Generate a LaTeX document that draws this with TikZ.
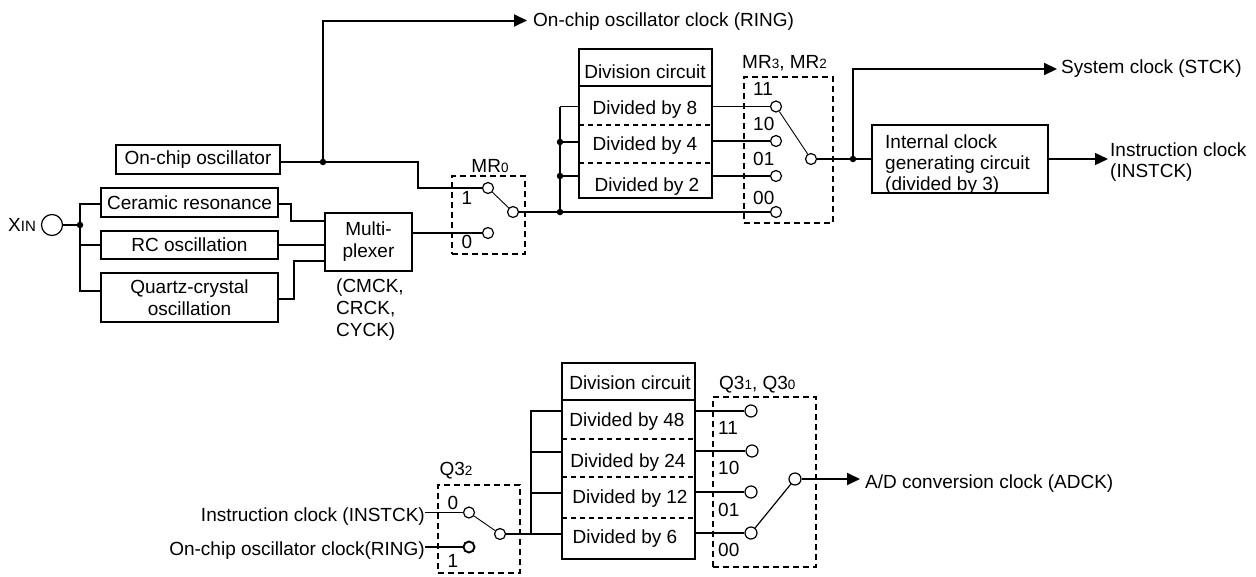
\documentclass[tikz,border=0pt]{standalone}
\usepackage{fontspec}
\setmainfont{Liberation Sans}
\usetikzlibrary{arrows.meta}
\newcommand{\sm}[1]{{\fontsize{13.5}{14}\selectfont #1}}
\tikzset{
  wire/.style={line width=1.3pt},
  thin wire/.style={line width=0.9pt},
  bold wire/.style={line width=2pt},
  arrowed/.style={-{Triangle[length=13pt,width=12pt]}},
  box/.style={draw,line width=1.6pt,inner sep=0pt,align=center,font=\fontsize{19}{22}\selectfont},
  heavybox/.style={draw,line width=2pt,inner sep=0pt},
  lbl/.style={inner sep=0pt,text height=13.6pt,text depth=0pt,font=\fontsize{19}{21}\selectfont},
  dashbox/.style={draw,line width=1.7pt,dash pattern=on 6pt off 4pt,inner sep=0pt},
  sepline/.style={line width=1.1pt,dash pattern=on 5pt off 4pt},
  sw/.style={circle,draw,line width=1.2pt,inner sep=0pt,minimum size=11pt},
  dot/.style={circle,fill,inner sep=0pt,minimum size=6.5pt},
}
\begin{document}
\begin{tikzpicture}[x=1pt,y=-1pt]
\useasboundingbox (0,0) rectangle (1256,576);
% ---------- upper diagram ----------
\node[lbl,anchor=west] (xin) at (8,225) {X{\fontsize{15}{15}\selectfont IN}};
\node[circle,draw,line width=1.2pt,inner sep=0pt,minimum size=21pt] (xinc) at (52,225) {};
\node[dot] (jx) at (80,225) {};
\node[box,minimum width=164pt,minimum height=29pt] (onchip) at (198,159.5) {On-chip oscillator};
\node[box,minimum width=177pt,minimum height=29pt] (cer) at (189.5,202.5) {Ceramic resonance};
\node[box,minimum width=177pt,minimum height=28.5pt] (rc) at (189.5,245) {RC oscillation};
\node[box,minimum width=177pt,minimum height=49pt] (qz) at (189.5,297.5) {Quartz-crystal\\[0pt]oscillation};
\node[box,minimum width=87pt,minimum height=58pt] (mux) at (368.5,242) {Multi-\\[0pt]plexer};
\node[lbl,anchor=north west,text height=,align=left,font=\fontsize{19}{22}\selectfont] (muxl) at (336,279) {(CMCK,\\CRCK,\\CYCK)};
\node[dashbox,minimum width=73pt,minimum height=78pt] (mr0) at (488.5,215) {};
\node[lbl] (mr0l) at (490,166) {MR\sm{0}};
\node[lbl] (mr0a) at (467,198) {1};
\node[lbl] (mr0b) at (467,242) {0};
\node[sw] (s1) at (488,188) {};
\node[sw] (s0) at (488,233) {};
\node[sw] (so) at (513,212) {};
\node[dot] (jo) at (323,162) {};
\coordinate (top) at (323,20.5);
\node[lbl,anchor=west] (ringout) at (533,20) {On-chip oscillator clock (RING)};
\coordinate (ringtip) at (527,20.5);
% division circuit 1
\node[heavybox,minimum width=133pt,minimum height=149pt] (div1) at (645.5,123.5) {};
\node[lbl] (d1t) at (645,72) {Division circuit};
\node[lbl] (d18) at (645,108) {Divided by 8};
\node[lbl] (d14) at (645,144) {Divided by 4};
\node[lbl] (d12) at (647,185) {Divided by 2};
\draw[line width=1.6pt] (579,86) coordinate (d1a) -- (712,86) coordinate (d1b);
\draw[sepline] (579,125) -- (712,125);
\draw[sepline] (579,163) -- (712,163);
\node[dashbox,minimum width=89pt,minimum height=146pt] (mr3) at (788.5,150) {};
\node[lbl,anchor=west] (mr3l) at (742,62) {MR\sm{3}, MR\sm{2}};
\node[lbl,anchor=west] (m11) at (753,89) {11};
\node[lbl,anchor=west] (m10) at (753,124) {10};
\node[lbl,anchor=west] (m01) at (753,159) {01};
\node[lbl,anchor=west] (m00) at (753,198) {00};
\node[sw] (t3) at (776,106.5) {};
\node[sw] (t2) at (776,141) {};
\node[sw] (t1) at (776,176) {};
\node[sw] (t0) at (776,212) {};
\node[sw] (to) at (811,159) {};
\coordinate (b1) at (560,106.5);
\coordinate (p13) at (579,106.5);
\coordinate (p12) at (579,142);
\coordinate (p11) at (579,176);
\node[dot] (j2) at (560,142) {};
\node[dot] (j1) at (560,176) {};
\node[dot] (j0) at (560,212) {};
\node[dot] (js) at (853,159) {};
\coordinate (stop) at (853,69);
\coordinate (stip) at (1057,69);
\node[lbl,anchor=west] (stck) at (1061,67) {System clock (STCK)};
\node[heavybox,minimum width=176pt,minimum height=68pt] (icg) at (960,159) {};
\node[lbl,anchor=west,text height=,align=left,font=\fontsize{19}{21}\selectfont] (icgt) at (885,163) {Internal clock\\generating circuit\\(divided by 3)};
\coordinate (itip) at (1108,159);
\node[lbl,anchor=west,text height=,align=left] (inst) at (1110,160) {Instruction clock\\(INSTCK)};
% wires upper
\draw[wire] (xinc) -- (jx);
\draw[wire] (cer.west |- 0,204) -| (80,291) -- (qz.west |- 0,291);
\draw[wire] (80,245) -- (rc.west |- 0,245);
\draw[wire] (onchip.east |- jo) -- (jo);
\draw[wire] (jo) -- (418,162) |- (s1);
\draw[bold wire,arrowed] (jo) -- (top) -- (ringtip);
\draw[wire] (cer.east |- 0,204) -- (291,204) |- (mux.west |- 0,221);
\draw[wire] (rc.east |- 0,245) -- (mux.west |- 0,245);
\draw[wire] (qz.east |- 0,299) -- (294,299) |- (mux.west |- 0,261);
\draw[wire] (mux.east |- s0) -- (s0);
\draw[thin wire] (s1) -- (so);
\draw[wire] (so) -- (j0);
\draw[wire] (j0) -- (t0);
\draw[wire] (b1) -- (j0);
\draw[wire] (b1) -- (p13);
\draw[wire] (j2) -- (p12);
\draw[wire] (j1) -- (p11);
\draw[wire] (div1.east |- t3) -- (t3);
\draw[wire] (div1.east |- t2) -- (t2);
\draw[wire] (div1.east |- t1) -- (t1);
\draw[thin wire] (t3) -- (to);
\draw[wire] (to) -- (js);
\draw[wire] (js) -- (icg.west |- js);
\draw[bold wire,arrowed] (js) -- (stop) -- (stip);
\draw[wire,arrowed] (icg.east |- itip) -- (itip);
% ---------- lower diagram ----------
\node[lbl,anchor=east] (instin) at (425,515) {Instruction clock (INSTCK)};
\node[lbl,anchor=east] (ringin) at (425,549) {On-chip oscillator clock(RING)};
\node[dashbox,minimum width=82pt,minimum height=88pt] (q2) at (479,529) {};
\node[lbl] (q2l) at (456,469) {Q3\sm{2}};
\node[lbl] (q2a) at (453,503) {0};
\node[lbl] (q2b) at (453,561) {1};
\node[sw] (u0) at (469,512.5) {};
\node[sw,line width=1.9pt] (u1) at (469,547) {};
\node[sw] (uo) at (500,534) {};
\node[heavybox,line width=1.7pt,minimum width=133pt,minimum height=196pt] (div2) at (628.5,461) {};
\draw[line width=1.6pt] (562,400) -- (695,400);
\draw[sepline] (562,439) -- (695,439);
\draw[sepline] (562,477) -- (695,477);
\draw[sepline] (562,518) -- (695,518);
\node[lbl] (d2t) at (630,383) {Division circuit};
\node[lbl] (d248) at (627,420) {Divided by 48};
\node[lbl] (d224) at (628,461) {Divided by 24};
\node[lbl] (d212) at (630,497) {Divided by 12};
\node[lbl] (d26) at (625,537) {Divided by 6};
\node[dashbox,minimum width=103pt,minimum height=170pt] (q3) at (764.5,482) {};
\node[lbl,anchor=west] (q3l) at (719,383) {Q3\sm{1}, Q3\sm{0}};
\node[lbl,anchor=west] (n11) at (718,428) {11};
\node[lbl,anchor=west] (n10) at (718,468) {10};
\node[lbl,anchor=west] (n01) at (718,510) {01};
\node[lbl,anchor=west] (n00) at (718,550) {00};
\node[sw,minimum size=12pt] (v3) at (751,411) {};
\node[sw,minimum size=12pt] (v2) at (752,451) {};
\node[sw,minimum size=12pt] (v1) at (751,492) {};
\node[sw,minimum size=12pt] (v0) at (751,533) {};
\node[sw,minimum size=12pt] (vo) at (795,479) {};
\coordinate (b2) at (531,411);
\coordinate (atip) at (860,479);
\node[lbl,anchor=west] (adck) at (865,482) {A/D conversion clock (ADCK)};
% wires lower
\draw[wire] (instin.east |- u0) -- (u0);
\draw[wire] (ringin.east |- u1) -- (u1);
\draw[thin wire] (u0) -- (uo);
\draw[wire] (uo) -- (div2.west |- uo);
\draw[wire] (div2.west |- b2) -- (b2) -- (531,534);
\draw[wire] (531,452) -- (div2.west |- 0,452);
\draw[wire] (531,493) -- (div2.west |- 0,493);
\draw[wire] (div2.east |- v3) -- (v3);
\draw[wire] (div2.east |- v2) -- (v2);
\draw[wire] (div2.east |- v1) -- (v1);
\draw[wire] (div2.east |- v0) -- (v0);
\draw[thin wire,line width=1.2pt] (v0) -- (vo);
\draw[bold wire,arrowed] (vo) -- (atip);
\end{tikzpicture}
\end{document}
